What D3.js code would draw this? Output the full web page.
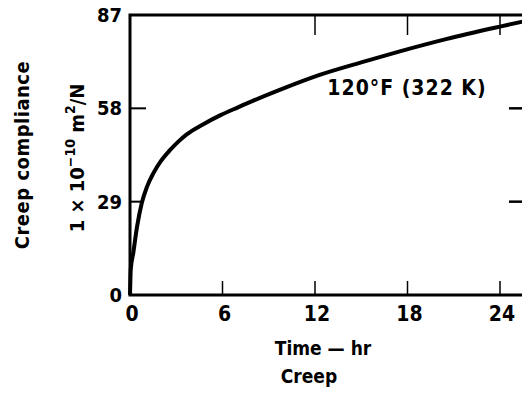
<!DOCTYPE html>
<html>
<head>
<meta charset="utf-8">
<script src="https://cdn.jsdelivr.net/npm/d3@7"></script>
<style>
body { margin: 0; background: #fff; }
svg { display: block; }
text { font-family: "DejaVu Sans Condensed", "Liberation Sans Narrow", "DejaVu Sans", sans-serif; fill: #000; }
</style>
</head>
<body>
<svg id="chart"></svg>
<script>
width = 522;
height = 398;

// time in hr, creep compliance in 1e-10 m^2/N
var timeHr = [0, 0.05, 0.21, 0.45, 0.76, 1.1, 1.51, 2.0, 2.59, 3.1, 3.68, 4.7, 5.84, 7.0, 8.0, 10.0, 12.3, 15.0, 17.5, 20.5, 24.0, 25.7];
var compliance = [0, 8, 13.0, 21.0, 28.5, 33.6, 37.8, 41.6, 45.0, 47.5, 49.9, 52.9, 55.8, 58.3, 60.4, 64.3, 68.4, 72.3, 75.7, 79.5, 83.4, 85.2];
var xTicks = [0, 6, 12, 18, 24];
var yTicks = [0, 29, 58, 87];
var curveLabel = '120°F (322 K)';

const svg = d3.select('#chart').attr('width', width).attr('height', height);

const x = d3.scaleLinear().domain([0, 24]).range([130, 500]);
const y = d3.scaleLinear().domain([0, 87]).range([295, 15]);
const xMax = 25.75;

svg.append('clipPath').attr('id', 'plotclip')
	.append('rect').attr('x', 0).attr('y', 0).attr('width', width).attr('height', height);

const frame = svg.append('g').attr('clip-path', 'url(#plotclip)');

// frame
frame.append('rect')
	.attr('x', x(0)).attr('y', y(87))
	.attr('width', x(xMax) - x(0)).attr('height', y(0) - y(87))
	.attr('fill', 'none').attr('stroke', '#000').attr('stroke-width', 3);

// bottom ticks (inward) and top ticks (inward, longer)
xTicks.slice(1).forEach(function(t){
	frame.append('line').attr('x1', x(t)).attr('x2', x(t))
		.attr('y1', y(0)).attr('y2', y(0) - 14)
		.attr('stroke', '#000').attr('stroke-width', 1.5);
	if (t >= 12) {
		frame.append('line').attr('x1', x(t)).attr('x2', x(t))
			.attr('y1', y(87)).attr('y2', y(87) + 20)
			.attr('stroke', '#000').attr('stroke-width', 1.5);
	}
});

// left and right ticks
[29, 58].forEach(function(v){
	frame.append('line').attr('x1', x(0)).attr('x2', x(0) + (v == 58 ? 16 : 12))
		.attr('y1', y(v)).attr('y2', y(v))
		.attr('stroke', '#000').attr('stroke-width', 2);
	frame.append('line').attr('x1', x(xMax)).attr('x2', x(xMax) - 18)
		.attr('y1', y(v)).attr('y2', y(v))
		.attr('stroke', '#000').attr('stroke-width', 2.5);
});

// curve
const line = d3.line()
	.x((d, i) => x(timeHr[i]))
	.y(d => y(d))
	.curve(d3.curveMonotoneX);
frame.append('path')
	.datum(compliance)
	.attr('d', line)
	.attr('fill', 'none')
	.attr('stroke', '#000')
	.attr('stroke-width', 4)
	.attr('stroke-linejoin', 'round');

// tick labels
svg.selectAll('.ylab').data(yTicks).enter().append('text')
	.attr('class', 'ylab')
	.attr('x', 122).attr('y', d => y(d) + 7)
	.attr('text-anchor', 'end')
	.attr('font-size', 20).attr('font-weight', 'bold')
	.text(d => d);

svg.selectAll('.xlab').data(xTicks).enter().append('text')
	.attr('class', 'xlab')
	.attr('x', d => x(d) + 2).attr('y', 321)
	.attr('text-anchor', 'middle')
	.attr('font-size', 21).attr('font-weight', 'bold')
	.text(d => d);

// axis titles
svg.append('text').attr('x', 323).attr('y', 355)
	.attr('text-anchor', 'middle').attr('font-size', 19).attr('font-weight', 'bold')
	.text('Time — hr');
svg.append('text').attr('x', 309).attr('y', 383)
	.attr('text-anchor', 'middle').attr('font-size', 19).attr('font-weight', 'bold')
	.text('Creep');

svg.append('text')
	.attr('transform', 'translate(29,155) rotate(-90)')
	.attr('text-anchor', 'middle').attr('font-size', 20).attr('font-weight', 'bold')
	.attr('letter-spacing', 0.5)
	.text('Creep compliance');

const unit = svg.append('text')
	.attr('transform', 'translate(84,158) rotate(-90)')
	.attr('text-anchor', 'middle').attr('font-size', 20).attr('font-weight', 'bold');
unit.append('tspan').text('1 × 10');
unit.append('tspan').attr('dy', -9).attr('font-size', 14).text('−10');
unit.append('tspan').attr('dy', 9).text(' m');
unit.append('tspan').attr('dy', -9).attr('font-size', 14).text('2');
unit.append('tspan').attr('dy', 9).text('/N');

// curve label
svg.append('text').attr('x', 407).attr('y', 95)
	.attr('text-anchor', 'middle').attr('font-size', 21).attr('font-weight', 600)
	.attr('letter-spacing', 1)
	.text(curveLabel);
</script>
</body>
</html>
